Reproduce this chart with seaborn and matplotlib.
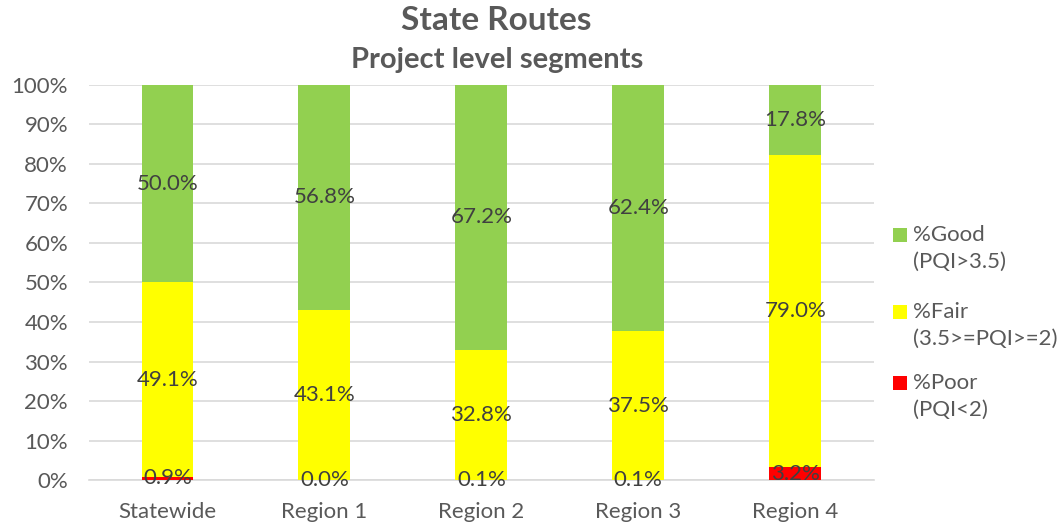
import pandas as pd
import numpy as np
import matplotlib
matplotlib.use('Agg')
import matplotlib.pyplot as plt
import seaborn as sns
from matplotlib.patches import Rectangle

regions = ['Statewide', 'Region 1', 'Region 2', 'Region 3', 'Region 4']
poor = [0.9, 0.0, 0.1, 0.1, 3.2]
fair = [49.1, 43.1, 32.8, 37.5, 79.0]
good = [50.0, 56.8, 67.2, 62.4, 17.8]

df = pd.DataFrame({'region': regions, 'poor': poor, 'fair': fair, 'good': good})
df['cum_fair'] = df['poor'] + df['fair']
df['cum_good'] = df['cum_fair'] + df['good']

sns.set_style('white')
plt.rcParams['font.family'] = ['Lato', 'DejaVu Sans']
txt = '#595959'
lbl = '#404040'
colors = {'good': '#92d050', 'fair': '#ffff00', 'poor': '#ff0000'}

W, H = 1059, 527
fig = plt.figure(figsize=(W / 100, H / 100), dpi=100)
ax = fig.add_axes([0.084, 0.089, 0.741, 0.75])

bw = 0.33
sns.barplot(df, x='region', y='cum_good', color=colors['good'], width=bw, saturation=1, ax=ax, linewidth=0, edgecolor='none', zorder=2)
sns.barplot(df, x='region', y='cum_fair', color=colors['fair'], width=bw, saturation=1, ax=ax, linewidth=0, edgecolor='none', zorder=3)
sns.barplot(df, x='region', y='poor', color=colors['poor'], width=bw, saturation=1, ax=ax, linewidth=0, edgecolor='none', zorder=4)

# segment labels in the middle of each piece
for i, row in df.iterrows():
    ax.text(i, row['poor'] / 2, f"{row['poor']:.1f}%", ha='center', va='center', fontsize=16, color=lbl, zorder=5)
    ax.text(i, row['poor'] + row['fair'] / 2, f"{row['fair']:.1f}%", ha='center', va='center', fontsize=16, color=lbl, zorder=5)
    ax.text(i, row['cum_fair'] + row['good'] / 2, f"{row['good']:.1f}%", ha='center', va='center', fontsize=16, color=lbl, zorder=5)

ax.set_ylim(0, 100)
ax.set_xlim(-0.5, 4.5)
ax.set_yticks(np.arange(0, 101, 10))
ax.set_yticklabels([f'{v}%' for v in range(0, 101, 10)])
ax.yaxis.grid(True, color='#d9d9d9', linewidth=1.2, zorder=0)
ax.set_axisbelow(True)
for s in ['top', 'right', 'left']:
    ax.spines[s].set_visible(False)
ax.spines['bottom'].set_color('#d9d9d9')
ax.spines['bottom'].set_linewidth(1.2)
ax.tick_params(axis='y', length=0, labelsize=16, colors=txt, pad=15)
ax.tick_params(axis='x', length=0, labelsize=16, colors=txt, pad=16)
ax.set_xlabel('')
ax.set_ylabel('')

fig.text(0.469, 1 - 20 / H, 'State Routes', ha='center', va='center', fontsize=24, fontweight='bold', color=txt)
fig.text(0.469, 1 - 60 / H, 'Project level segments', ha='center', va='center', fontsize=21, fontweight='bold', color=txt)

# legend drawn by hand so the swatch sits next to the first line
legend_items = [('good', '%Good', '(PQI>3.5)', 235),
                ('fair', '%Fair', '(3.5>=PQI>=2)', 312),
                ('poor', '%Poor', '(PQI<2)', 383)]
for key, l1, l2, y in legend_items:
    fig.patches.append(Rectangle((893 / W, 1 - (y + 7) / H), 14 / W, 14 / H,
                                 transform=fig.transFigure, facecolor=colors[key], edgecolor='none'))
    fig.text(913 / W, 1 - y / H, l1, ha='left', va='center', fontsize=16, color=txt)
    fig.text(913 / W, 1 - (y + 27) / H, l2, ha='left', va='center', fontsize=16, color=txt)

plt.savefig('out.png', dpi=100)
